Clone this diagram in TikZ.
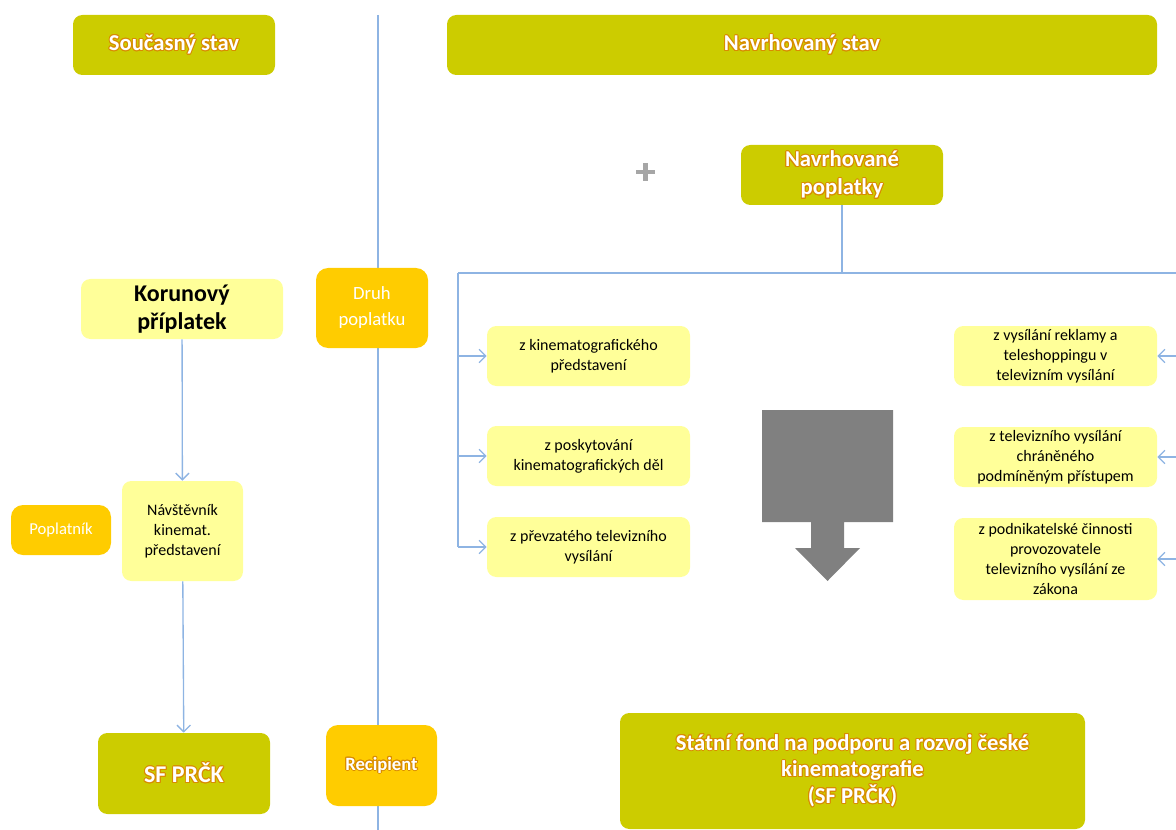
\documentclass[tikz,border=0pt]{standalone}
\usepackage{fontspec}
\setmainfont{Carlito}
\usepackage{contour}
\usetikzlibrary{arrows.meta}
\contourlength{0.7pt}
\definecolor{oliva}{HTML}{CCCC00}
\definecolor{giallo}{HTML}{FFFF99}
\definecolor{arancio}{HTML}{FFCC00}
\definecolor{linea}{HTML}{8EB4E3}
\definecolor{bordo}{HTML}{D98C00}
\definecolor{grigio}{HTML}{808080}
\newcommand{\pxl}{0.75pt} % un pixel
\newcommand{\bianco}[1]{\contour{bordo}{#1}}

\begin{document}
\begin{tikzpicture}[x=0.75pt,y=-0.75pt,
  titolo/.style={fill=oliva,rounded corners=7pt,text=white,align=center,
    inner sep=0pt,font=\fontsize{17}{20}\selectfont\bfseries},
  foglia/.style={fill=giallo,rounded corners=7pt,align=center,inner sep=0pt,
    font=\fontsize{12}{15}\selectfont},
  ruolo/.style={fill=arancio,rounded corners=9pt,text=white,align=center,
    inner sep=0pt,font=\fontsize{14}{19.5}\selectfont},
  freccia/.style={draw=linea,line width=1pt,-{Straight Barb[length=5pt,width=10pt]}}]
\useasboundingbox (0,0) rectangle (1176,830);

\draw[linea,line width=1pt] (378,15) -- (378,830); % linea divisoria

% stav soucasny
\node[titolo,minimum width=202*\pxl,minimum height=60*\pxl] (soucasny) at (174,45)
     {\bianco{Současný stav}};
\node[foglia,minimum width=202*\pxl,minimum height=60*\pxl,
      font=\fontsize{18}{21}\selectfont\bfseries] (korunovy) at (182,309)
     {Korunový\\příplatek};
\node[foglia,minimum width=121*\pxl,minimum height=100*\pxl] (navstevnik) at (182.5,531)
     {Návštěvník\\kinemat.\\představení};
\node[ruolo,minimum width=100*\pxl,minimum height=50*\pxl,
      font=\fontsize{12.5}{14}\selectfont] (poplatnik) at (61,530) {Poplatník};
\node[titolo,minimum width=172*\pxl,minimum height=81*\pxl,
      font=\fontsize{18}{20}\selectfont\bfseries] (sfprck) at (184,773.5)
     {\bianco{SF PRČK}};
\draw[freccia] (korunovy) -- (navstevnik);
\draw[freccia] (navstevnik) -- (sfprck);

\node[ruolo,minimum width=112*\pxl,minimum height=80*\pxl] (druh) at (372,308)
     {Druh\\poplatku};
\node[ruolo,minimum width=111*\pxl,minimum height=81*\pxl,
      font=\fontsize{14}{16}\selectfont\bfseries] (recipient) at (381.5,765.5)
     {\bianco{Recipient}};

% stav navrhovany
\node[titolo,minimum width=710*\pxl,minimum height=60*\pxl] (navrhovany) at (802,45)
     {\bianco{Navrhovaný stav}};
\draw[grigio!70,line width=3.5pt] (636,172) -- (655,172) (645.5,163) -- (645.5,181); % plus
\node[titolo,minimum width=202*\pxl,minimum height=60*\pxl,
      font=\fontsize{17}{21}\selectfont\bfseries] (poplatky) at (842,175)
     {\bianco{Navrhované}\\\bianco{poplatky}};

\coordinate (nodo) at (842,273);
\coordinate (sx) at (458,273);
\coordinate (dx) at (1176,273);
\draw[linea,line width=1pt] (poplatky.south) -- (nodo);
\draw[linea,line width=1pt] (sx) -- (dx);

\node[foglia,minimum width=203*\pxl,minimum height=60*\pxl] (fsx1) at (588.5,356)
     {z kinematografického\\představení};
\node[foglia,minimum width=203*\pxl,minimum height=60*\pxl] (fsx2) at (588.5,456)
     {z poskytování\\kinematografických děl};
\node[foglia,minimum width=203*\pxl,minimum height=60*\pxl] (fsx3) at (588.5,547)
     {z převzatého televizního\\vysílání};
\node[foglia,minimum width=203*\pxl,minimum height=60*\pxl] (fdx1) at (1055.5,356)
     {z vysílání reklamy a\\teleshoppingu v\\televizním vysílání};
\node[foglia,minimum width=203*\pxl,minimum height=60*\pxl] (fdx2) at (1055.5,457)
     {z televizního vysílání\\chráněného\\podmíněným přístupem};
\node[foglia,minimum width=203*\pxl,minimum height=82*\pxl] (fdx3) at (1055.5,559)
     {z podnikatelské činnosti\\provozovatele\\televizního vysílání ze\\zákona};

\draw[linea,line width=1pt] (sx) -- (sx |- fsx3.west);
\foreach \i in {1,2,3} {
  \draw[freccia] (sx |- fsx\i.west) -- (fsx\i.west);
  \draw[freccia] (dx |- fdx\i.east) -- (fdx\i.east);
}

\fill[grigio] (762,410) -- (893,410) -- (893,522) -- (844,522) -- (844,548) --
      (860,548) -- (827.5,581) -- (795,548) -- (811,548) -- (811,522) --
      (762,522) -- cycle; % freccia grigia

\node[titolo,minimum width=465*\pxl,minimum height=116*\pxl,
      font=\fontsize{17}{20}\selectfont\bfseries] (fond) at (852.5,771)
     {\bianco{Státní fond na podporu a rozvoj české}\\\bianco{kinematografie}\\\bianco{(SF PRČK)}};
\end{tikzpicture}
\end{document}
